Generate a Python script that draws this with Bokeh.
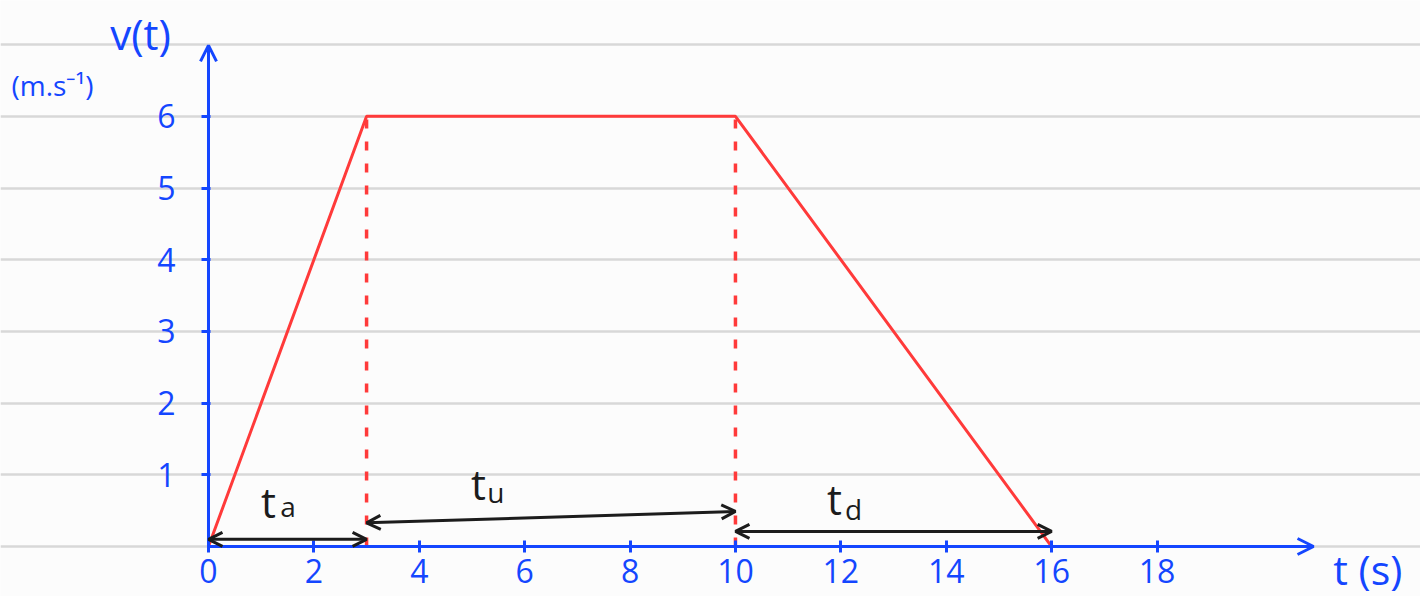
from bokeh.plotting import figure
from bokeh.models import LinearAxis, FixedTicker, Range1d, Grid, Arrow, OpenHead
from bokeh.core.properties import value
from bokeh.embed import file_html
from bokeh.resources import INLINE

# ---- data ----
time_s = [0, 3, 10, 16]
velocity = [0, 6, 6, 0]
x_ticks = [0, 2, 4, 6, 8, 10, 12, 14, 16, 18]
y_ticks = [1, 2, 3, 4, 5, 6]
ruled_lines = [0, 1, 2, 3, 4, 5, 6, 7]
phase_starts = [0, 3, 10]
phase_ends = [3, 10, 16]
phase_subscripts = ["a", "u", "d"]
y_axis_label = "v(t)"
y_unit_label = "(m.s⁻¹)"
x_axis_label = "t (s)"

# ---- styles / layout ----
BLUE = "#1446ff"
RED = "#ff3a3a"
BLACK = "#1c1c1c"
BG = "#fcfcfc"
FONT = value("Open Sans")
X_AXIS_END = 20.97
Y_AXIS_END = 6.99

p = figure(width=1420, height=596, output_backend="svg", toolbar_location=None,
           x_axis_type=None, y_axis_type=None,
           x_range=Range1d(-3.947, 23.0), y_range=Range1d(-0.697, 7.615),
           min_border=0, background_fill_color=BG, border_fill_color=BG,
           outline_line_color=None)

p.add_layout(Grid(dimension=1, ticker=FixedTicker(ticks=ruled_lines),
                  grid_line_color="#d8d8d8", grid_line_width=2.5))

xaxis = LinearAxis(fixed_location=0, bounds=(0, X_AXIS_END),
                   ticker=FixedTicker(ticks=x_ticks),
                   axis_line_color=BLUE, axis_line_width=3,
                   major_tick_line_color=BLUE, major_tick_line_width=3,
                   major_tick_in=6, major_tick_out=6, minor_tick_line_color=None,
                   major_label_text_color=BLUE, major_label_text_font_size="32px",
                   major_label_text_font="Open Sans", major_label_standoff=6)
p.add_layout(xaxis, "below")

yaxis = LinearAxis(fixed_location=0, bounds=(0, Y_AXIS_END),
                   ticker=FixedTicker(ticks=y_ticks),
                   axis_line_color=BLUE, axis_line_width=3,
                   major_tick_line_color=BLUE, major_tick_line_width=3,
                   major_tick_in=2, major_tick_out=7, minor_tick_line_color=None,
                   major_label_text_color=BLUE, major_label_text_font_size="32px",
                   major_label_text_font="Open Sans", major_label_standoff=26)
p.add_layout(yaxis, "left")

# axis arrowheads
p.add_layout(Arrow(end=OpenHead(size=16, line_color=BLUE, line_width=3),
                   x_start=0, y_start=0, x_end=0, y_end=Y_AXIS_END,
                   line_color=BLUE, line_width=3))
p.add_layout(Arrow(end=OpenHead(size=16, line_color=BLUE, line_width=3),
                   x_start=0, y_start=0, x_end=X_AXIS_END, y_end=0,
                   line_color=BLUE, line_width=3))

# velocity profile
p.line(time_s, velocity, line_color=RED, line_width=3)
p.segment(x0=time_s[1:3], y0=[0, 0], x1=time_s[1:3], y1=velocity[1:3],
          line_color=RED, line_width=3.5, line_dash="9 13")

# phase duration arrows
arrow_y0 = [0.10, 0.33, 0.21]
arrow_y1 = [0.10, 0.49, 0.21]
for s, e, ya, yb in zip(phase_starts, phase_ends, arrow_y0, arrow_y1):
    p.add_layout(Arrow(start=OpenHead(size=14, line_color=BLACK, line_width=3),
                       end=OpenHead(size=14, line_color=BLACK, line_width=3),
                       x_start=s, y_start=ya, x_end=e, y_end=yb,
                       line_color=BLACK, line_width=3))

# phase labels: t with subscript
t_x = [1.139, 5.123, 11.88]
t_y = [0.628, 0.879, 0.669]
sub_x = [1.36, 5.29, 12.08]
sub_y = [0.572, 0.767, 0.530]
p.text(x=t_x, y=t_y, text=["t"] * 3, text_font=FONT, text_font_size="42px",
       text_color=BLACK, text_align="center", text_baseline="alphabetic")
p.text(x=sub_x, y=sub_y, text=phase_subscripts, text_font=FONT, text_font_size="28px",
       text_color=BLACK, text_align="left", text_baseline="alphabetic")

# axis titles
p.text(x=[-1.29], y=[7.155], text=[y_axis_label], text_font=FONT, text_font_size="42px",
       text_color=BLUE, text_align="center", text_baseline="middle")
p.text(x=[-2.96], y=[6.43], text=[y_unit_label], text_font=FONT, text_font_size="28px",
       text_color=BLUE, text_align="center", text_baseline="middle")
p.text(x=[22.0], y=[-0.31], text=[x_axis_label], text_font=FONT, text_font_size="41px",
       text_color=BLUE, text_align="center", text_baseline="middle")

open("out.html", "w").write(file_html(p, INLINE))
